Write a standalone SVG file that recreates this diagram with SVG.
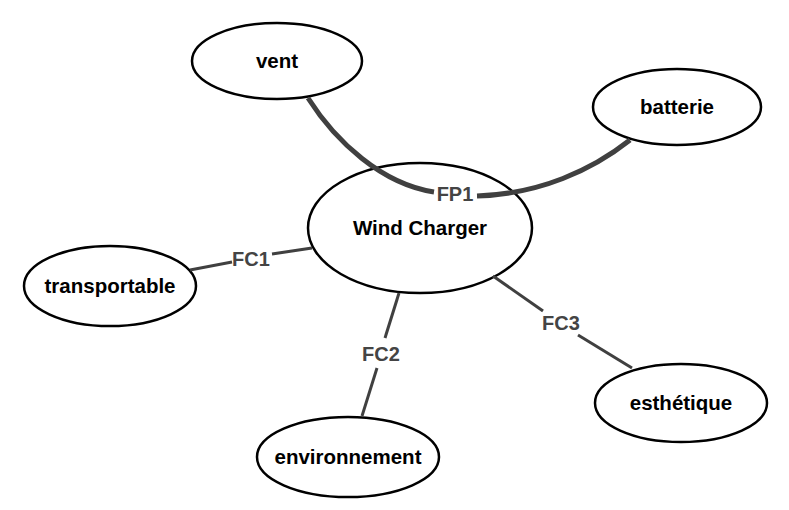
<svg xmlns="http://www.w3.org/2000/svg" width="789" height="510" viewBox="0 0 789 510">
<style>
.node ellipse{fill:#fff;stroke:#000;stroke-width:2.5}
.node text{font-family:"Liberation Sans",Arial,sans-serif;font-weight:bold;font-size:20.5px;fill:#000;text-anchor:middle}
.edge{fill:none;stroke:#404040;stroke-width:3}
.thick{stroke-width:5}
.lbl{font-family:"Liberation Sans",Arial,sans-serif;font-weight:bold;font-size:20px;fill:#444;text-anchor:middle}
</style>
<rect width="789" height="510" fill="#fff"/>
<g id="node-vent" class="node"><ellipse cx="277" cy="61" rx="85" ry="38"/><text x="277" y="68">vent</text></g>
<g id="node-batterie" class="node"><ellipse cx="677" cy="107" rx="84" ry="38"/><text x="677" y="114">batterie</text></g>
<g id="node-wind" class="node"><ellipse cx="420" cy="228" rx="112" ry="65"/><text x="420" y="235">Wind Charger</text></g>
<g id="node-transportable" class="node"><ellipse cx="110" cy="286" rx="86" ry="40"/><text x="110" y="293">transportable</text></g>
<g id="node-environnement" class="node"><ellipse cx="348" cy="457" rx="91" ry="40"/><text x="348" y="464">environnement</text></g>
<g id="node-esthetique" class="node"><ellipse cx="681" cy="403" rx="86" ry="39"/><text x="681" y="410">esthétique</text></g>
<g id="connectors">
<path class="edge thick" d="M308,98 C336,142 382,184 434,192"/>
<path class="edge thick" d="M477,196 C540,194 592,170 630,140"/>
<text class="lbl" x="455" y="201">FP1</text>
<path class="edge" d="M190,270 L232,262"/>
<path class="edge" d="M272,254 L312,248"/>
<text class="lbl" x="251" y="266">FC1</text>
<path class="edge" d="M399,293 L385,338"/>
<path class="edge" d="M377,368 L362,416"/>
<text class="lbl" x="381" y="361">FC2</text>
<path class="edge" d="M493,276 L543,311"/>
<path class="edge" d="M578,335 L632,368"/>
<text class="lbl" x="561" y="330">FC3</text>
</g>
</svg>
